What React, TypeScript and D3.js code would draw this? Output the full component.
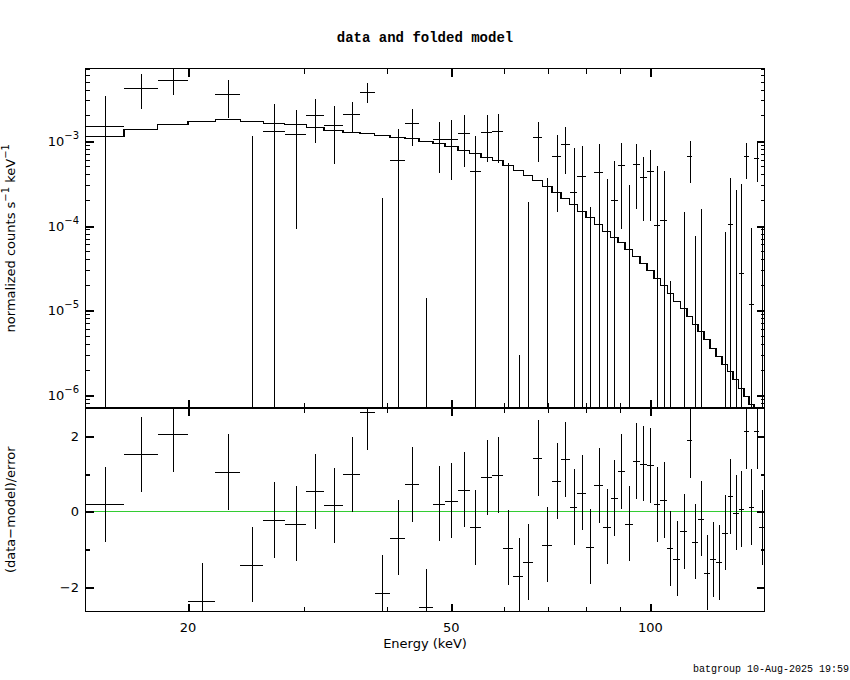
import React, {useRef, useEffect} from 'react'
import * as d3 from 'd3'

// energy bin edges (keV)
const edges = [
  14, 16, 18, 20, 22, 24, 26, 28, 30.2, 32.1, 34.3, 36.4, 38.3, 40.4, 42.6, 44.7, 46.9, 48.9, 51.2, 53.3,
  55.5, 57.7, 59.9, 62.1, 64.3, 66.4, 68.7, 71.0, 73.3, 75.5, 77.6, 80.0, 82.3, 84.7, 87.1, 89.3, 91.6, 94.0,
  96.5, 98.8, 101.3, 103.6, 106.1, 108.4, 111.0, 113.5, 115.8, 118.1, 120.6, 123.1, 125.7, 128.4, 130.9,
  133.3, 136.0, 138.5, 140.9, 143.5, 146.2, 149.0,
]

// folded model (counts s^-1 keV^-1)
const model = [
  1.146e-3, 1.385e-3, 1.586e-3, 1.721e-3, 1.798e-3, 1.721e-3, 1.631e-3, 1.557e-3, 1.463e-3, 1.348e-3,
  1.277e-3, 1.243e-3, 1.177e-3, 1.115e-3, 1.064e-3, 1.0e-3, 9.29e-4, 8.57e-4, 7.83e-4, 7.22e-4,
  6.48e-4, 5.86e-4, 5.11e-4, 4.55e-4, 3.97e-4, 3.47e-4, 2.946e-4, 2.503e-4, 2.127e-4, 1.773e-4,
  1.495e-4, 1.256e-4, 1.039e-4, 8.68e-5, 7.3e-5, 6.32e-5, 5.32e-5, 4.32e-5, 3.6e-5, 2.95e-5,
  2.42e-5, 1.97e-5, 1.61e-5, 1.3e-5, 1.06e-5, 8.54e-6, 6.95e-6, 5.64e-6, 4.54e-6, 3.62e-6,
  2.91e-6, 2.35e-6, 1.9e-6, 1.53e-6, 1.22e-6, 9.7e-7, 7.8e-7, 6.3e-7, 5.1e-7,
]

// data rate per bin
const rate = [
  1.503e-3, 4.22e-3, 5.24e-3, -1.583e-3, 3.52e-3, -2.4e-4, 1.31e-3, 1.21e-3, 2.04e-3, 1.544e-3,
  2.08e-3, 3.78e-3, -6.33e-4, 5.97e-4, 1.631e-3, -6.35e-4, 1.044e-3, 1.044e-3, 1.243e-3, 4.43e-4,
  1.277e-3, 1.312e-3, -1.8e-4, -6.42e-4, -4.1e-4, 1.109e-3, -2.29e-4, 6.65e-4, 9.22e-4, 2.503e-4,
  3.866e-4, -3.76e-4, 4.31e-4, -8.84e-5, 2.015e-4, 5.21e-4, -6.17e-5, 5.355e-4, 3.762e-4, 4.43e-4,
  1.017e-4, 1.17e-4, -2.78e-4, -3.62e-4, -1.397e-4, 6.53e-4, -2.71e-4, -3.0e-5, -4.81e-4, -3.77e-4,
  -4.02e-4, -1.01e-4, 1.05e-4, -6.6e-6, 2.775e-5, 6.53e-4, 1.174e-5, 6.3e-4, -7.2e-5,
]

// 1-sigma errors
const rateErr = [
  1.83e-3, 1.84e-3, 1.79e-3, 1.4e-3, 1.67e-3, 1.39e-3, 1.37e-3, 1.12e-3, 1.1e-3, 1.01e-3,
  8.1e-4, 9.8e-4, 8.42e-4, 7.88e-4, 7.7e-4, 6.49e-4, 6.3e-4, 7.0e-4, 7.5e-4, 6.81e-4,
  7.1e-4, 7.7e-4, 7.2e-4, 6.45e-4, 6.02e-4, 5.4e-4, 5.95e-4, 5.2e-4, 5.15e-4, 5.61e-4,
  4.7e-4, 5.4e-4, 4.73e-4, 4.38e-4, 3.69e-4, 4.3e-4, 3.59e-4, 3.8e-4, 2.62e-4, 3.3e-4,
  3.96e-4, 3.175e-4, 3.0e-4, 3.0e-4, 2.836e-4, 3.35e-4, 3.47e-4, 1.877e-4, 3.0e-4, 3.0e-4,
  3.0e-4, 1.85e-4, 2.57e-4, 2.71e-4, 2.775e-4, 3.0e-4, 8.25e-5, 3.05e-4, 1.72e-4,
]

// (data-model)/error
const resid = [
  0.19, 1.51, 2.04, -2.36, 1.04, -1.41, -0.23, -0.32, 0.53, 0.16,
  0.98, 2.63, -2.15, -0.69, 0.72, -2.52, 0.21, 0.29, 0.58, -0.42,
  0.9, 0.96, -0.96, -1.7, -1.34, 1.41, -0.88, 0.8, 1.38, 0.12,
  0.5, -0.93, 0.69, -0.4, 0.35, 1.06, -0.32, 1.33, 1.27, 1.22,
  0.19, 0.3, -0.98, -1.25, -0.53, 1.88, -0.8, -0.19, -1.62, -1.27,
  -1.35, -0.56, 0.4, -0.03, 0.07, 2.12, 0.12, 2.12, -0.42,
]

const xTicks = [20, 30, 40, 50, 60, 70, 80, 90, 100]
const xLabels = [20, 50, 100]
const yTopExps = [-3, -4, -5, -6]
const yResTicks = [-2, -1, 0, 1, 2]
const yResLabels = [2, 0, -2]

const SANS = 'DejaVu Sans, sans-serif'
const MONO = 'Liberation Mono, monospace'

function App() {
  const ref: any = useRef<SVGSVGElement>(null)

  useEffect(() => {
    const svg = d3.select(ref.current)
    svg.selectAll('*').remove()

    const left = 85.5
    const right = 764.5
    const top = 68.5
    const mid = 408
    const bottom = 611.5

    const x = d3.scaleLog().domain([14, 148.8]).range([left, right])
    const yT = d3.scaleLog().domain([7.03e-7, 7.12e-3]).range([mid, top])
    const yB = d3.scaleLinear().domain([-2.65, 2.74]).range([bottom, mid])

    const bins = model.map((m, i) => ({
      lo: edges[i],
      hi: edges[i + 1],
      c: (edges[i] + edges[i + 1]) / 2,
      model: m,
      val: rate[i],
      err: rateErr[i],
      res: resid[i],
    }))

    const px = (v: number) => Math.round(v) + 0.5

    const defs = svg.append('defs')
    defs.append('clipPath').attr('id', 'clipTop')
      .append('rect').attr('x', left).attr('y', top).attr('width', right - left).attr('height', mid - top)
    defs.append('clipPath').attr('id', 'clipBot')
      .append('rect').attr('x', left).attr('y', mid).attr('width', right - left).attr('height', bottom - mid)

    // ---- top panel: data crosses
    const gTop = svg.append('g').attr('clip-path', 'url(#clipTop)')
      .attr('stroke', '#000').attr('stroke-width', 1).attr('shape-rendering', 'crispEdges')

    bins.forEach(b => {
      const hiV = b.val + b.err
      if (hiV > 0) {
        const loV = Math.max(b.val - b.err, 1e-9)
        gTop.append('line')
          .attr('x1', px(x(b.c))).attr('x2', px(x(b.c)))
          .attr('y1', yT(loV)).attr('y2', yT(hiV))
      }
      if (b.val > 0) {
        gTop.append('line')
          .attr('x1', x(b.lo)).attr('x2', x(b.hi))
          .attr('y1', px(yT(b.val))).attr('y2', px(yT(b.val)))
      }
    })

    // model histogram
    const pts: [number, number][] = bins.map(b => [b.lo, b.model])
    pts.push([bins[bins.length - 1].hi, bins[bins.length - 1].model])
    const step = d3.line<[number, number]>()
      .x(d => x(d[0]))
      .y(d => px(yT(d[1])))
      .curve(d3.curveStepAfter)
    gTop.append('path').attr('d', step(pts)).attr('fill', 'none').attr('stroke-width', 1.6)

    // ---- bottom panel: residuals
    const gBot = svg.append('g').attr('clip-path', 'url(#clipBot)')
      .attr('stroke', '#000').attr('stroke-width', 1).attr('shape-rendering', 'crispEdges')

    gBot.append('line')
      .attr('x1', left).attr('x2', right)
      .attr('y1', px(yB(0))).attr('y2', px(yB(0)))
      .attr('stroke', '#33cc33')

    bins.forEach(b => {
      gBot.append('line')
        .attr('x1', px(x(b.c))).attr('x2', px(x(b.c)))
        .attr('y1', yB(b.res - 1)).attr('y2', yB(b.res + 1))
      gBot.append('line')
        .attr('x1', x(b.lo)).attr('x2', x(b.hi))
        .attr('y1', px(yB(b.res))).attr('y2', px(yB(b.res)))
    })

    // ---- frames and ticks
    const axes = svg.append('g').attr('stroke', '#000').attr('fill', 'none').attr('shape-rendering', 'crispEdges')
    axes.append('rect').attr('x', left).attr('y', top).attr('width', right - left).attr('height', mid - top)
    axes.append('rect').attr('x', left).attr('y', mid).attr('width', right - left).attr('height', bottom - mid)
    axes.append('line').attr('x1', left).attr('x2', right).attr('y1', mid).attr('y2', mid).attr('stroke-width', 2)

    const panels = [[top, mid], [mid, bottom]]
    panels.forEach(([p0, p1]) => {
      xTicks.forEach(t => {
        const len = xLabels.includes(t) ? 8 : 5
        const xx = px(x(t))
        axes.append('line').attr('x1', xx).attr('x2', xx).attr('y1', p0).attr('y2', p0 + len)
          .attr('stroke-width', xLabels.includes(t) ? 2 : 1)
        axes.append('line').attr('x1', xx).attr('x2', xx).attr('y1', p1).attr('y2', p1 - len)
          .attr('stroke-width', xLabels.includes(t) ? 2 : 1)
      })
    })

    const [yMin, yMax] = yT.domain()
    for (let e = -7; e <= -3; e++) {
      for (let k = 1; k <= 9; k++) {
        const v = k * Math.pow(10, e)
        if (v < yMin || v > yMax) continue
        const len = k === 1 ? 8 : 4
        const yy = px(yT(v))
        axes.append('line').attr('x1', left).attr('x2', left + len).attr('y1', yy).attr('y2', yy)
          .attr('stroke-width', k === 1 ? 2 : 1)
        axes.append('line').attr('x1', right).attr('x2', right - len).attr('y1', yy).attr('y2', yy)
          .attr('stroke-width', k === 1 ? 2 : 1)
      }
    }

    yResTicks.forEach(t => {
      const len = t % 2 === 0 ? 8 : 4
      const yy = px(yB(t))
      axes.append('line').attr('x1', left).attr('x2', left + len).attr('y1', yy).attr('y2', yy)
        .attr('stroke-width', 2)
      axes.append('line').attr('x1', right).attr('x2', right - len).attr('y1', yy).attr('y2', yy)
        .attr('stroke-width', 2)
    })

    // ---- text
    const txt = svg.append('g').attr('fill', '#000')

    xLabels.forEach(t => {
      txt.append('text').attr('x', x(t)).attr('y', 632)
        .attr('text-anchor', 'middle').attr('font-family', SANS).attr('font-size', 13)
        .text(String(t))
    })

    yTopExps.forEach(e => {
      const t = txt.append('text').attr('x', 79).attr('y', yT(Math.pow(10, e)) + 5)
        .attr('text-anchor', 'end').attr('font-family', SANS).attr('font-size', 13)
      t.append('tspan').text('10')
      t.append('tspan').attr('dy', -7).attr('font-size', 10).text('\u2212' + Math.abs(e))
    })

    yResLabels.forEach(v => {
      txt.append('text').attr('x', 79).attr('y', yB(v) + 5)
        .attr('text-anchor', 'end').attr('font-family', SANS).attr('font-size', 13)
        .text(v < 0 ? '\u2212' + Math.abs(v) : String(v))
    })

    const yl = txt.append('text')
      .attr('transform', `translate(15,${(top + mid) / 2}) rotate(-90)`)
      .attr('text-anchor', 'middle').attr('font-family', SANS).attr('font-size', 13)
    yl.append('tspan').text('normalized counts s')
    yl.append('tspan').attr('dy', -6).attr('font-size', 10).text('\u22121')
    yl.append('tspan').attr('dy', 6).text(' keV')
    yl.append('tspan').attr('dy', -6).attr('font-size', 10).text('\u22121')

    txt.append('text')
      .attr('transform', `translate(15,${(mid + bottom) / 2}) rotate(-90)`)
      .attr('text-anchor', 'middle').attr('font-family', SANS).attr('font-size', 13)
      .text('(data\u2212model)/error')

    txt.append('text').attr('x', (left + right) / 2).attr('y', 648)
      .attr('text-anchor', 'middle').attr('font-family', SANS).attr('font-size', 13)
      .text('Energy (keV)')

    txt.append('text').attr('x', (left + right) / 2).attr('y', 42)
      .attr('text-anchor', 'middle').attr('font-family', MONO).attr('font-size', 14).attr('font-weight', 'bold')
      .text('data and folded model')

    txt.append('text').attr('x', 849).attr('y', 672)
      .attr('text-anchor', 'end').attr('font-family', MONO).attr('font-size', 10)
      .text('batgroup 10-Aug-2025 19:59')
  }, [])

  return (
    <svg
      ref={ref}
      width={850}
      height={680}
      style={{position: 'absolute', left: 0, top: 0, background: '#fff'}}
    />
  )
}

export default App
